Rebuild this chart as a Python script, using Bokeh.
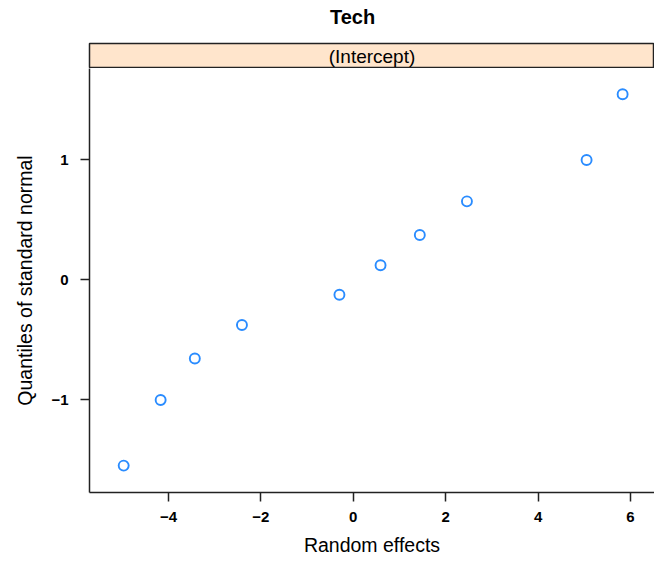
from bokeh.plotting import figure
from bokeh.layouts import column
from bokeh.models import Range1d, FixedTicker
from bokeh.core.properties import value
from bokeh.embed import file_html
from bokeh.resources import INLINE

# Estimated random effects (x) against standard normal quantiles (y)
random_effects = [-4.97, -4.17, -3.43, -2.41, -0.30, 0.59, 1.44, 2.46, 5.05, 5.83]
normal_quantiles = [-1.547, -1.000, -0.655, -0.375, -0.123, 0.123, 0.375, 0.655, 1.000, 1.547]

x_ticks = [-4, -2, 0, 2, 4, 6]
x_tick_labels = ["\u22124", "\u22122", "0", "2", "4", "6"]
y_ticks = [-1, 0, 1]
y_tick_labels = ["\u22121", "0", "1"]

main_title = "Tech"
strip_label = "(Intercept)"
x_label = "Random effects"
y_label = "Quantiles of standard normal"

FONT = "Liberation Sans"
AXIS_COL = "#222222"
POINT_COL = "#2A8CFF"
STRIP_COL = "#FFE5CC"

x_range = Range1d(-5.71, 6.52)

# Title band: a bare canvas in page-pixel coordinates (frame aligned with the panel)
head = figure(width=654, height=42, x_range=Range1d(89, 654), y_range=Range1d(42, 0),
              output_backend="svg", toolbar_location=None,
              x_axis_location=None, y_axis_location=None,
              min_border_left=89, min_border_right=0, min_border_top=0,
              min_border_bottom=0, outline_line_color=None,
              background_fill_color="white", border_fill_color="white")
head.grid.visible = False
head.text(x=[352], y=[16], text=[main_title], text_font=value(FONT),
          text_font_size="20px", text_font_style="bold", text_color="black",
          text_align="center", text_baseline="middle")

# Strip panel (lattice-style header)
strip = figure(width=654, height=26, x_range=x_range, y_range=Range1d(0, 1),
               output_backend="svg", toolbar_location=None,
               x_axis_location=None, y_axis_location=None,
               min_border_left=89, min_border_right=0, min_border_top=1,
               min_border_bottom=0, background_fill_color=STRIP_COL,
               border_fill_color="white", outline_line_color=AXIS_COL,
               outline_line_width=1.5)
strip.grid.visible = False
strip.text(x=[(x_range.start + x_range.end) / 2], y=[0.5], text=[strip_label],
           text_font=value(FONT), text_font_size="19px", text_align="center",
           text_baseline="middle", text_color="black")

# Main panel
p = figure(width=654, height=493, x_range=x_range, y_range=Range1d(-1.771, 1.762),
           output_backend="svg", toolbar_location=None,
           min_border_left=89, min_border_right=0, min_border_top=0,
           min_border_bottom=69, outline_line_color=None,
           background_fill_color="white", border_fill_color="white")
p.grid.visible = False

p.scatter(random_effects, normal_quantiles, marker="circle", size=10,
          fill_color=None, line_color=POINT_COL, line_width=1.9)

p.xaxis.ticker = FixedTicker(ticks=x_ticks)
p.xaxis.major_label_overrides = dict(zip(x_ticks, x_tick_labels))
p.yaxis.ticker = FixedTicker(ticks=y_ticks)
p.yaxis.major_label_overrides = dict(zip(y_ticks, y_tick_labels))
p.xaxis.axis_label = x_label
p.yaxis.axis_label = y_label

for ax in (p.xaxis, p.yaxis):
    ax.axis_line_color = AXIS_COL
    ax.axis_line_width = 1.5
    ax.major_tick_line_color = AXIS_COL
    ax.major_tick_line_width = 1.5
    ax.major_tick_out = 9
    ax.major_tick_in = 0
    ax.minor_tick_line_color = None
    ax.major_label_text_font = FONT
    ax.major_label_text_font_size = "15px"
    ax.major_label_text_font_style = "bold"
    ax.major_label_text_color = "black"
    ax.axis_label_text_font = FONT
    ax.axis_label_text_font_size = "19.5px"
    ax.axis_label_text_font_style = "normal"
    ax.axis_label_text_color = "black"

p.xaxis.major_label_standoff = 10
p.xaxis.axis_label_standoff = 9
p.yaxis.major_label_standoff = 12
p.yaxis.axis_label_standoff = 12
p.yaxis.major_label_orientation = "horizontal"

layout = column(head, strip, p, spacing=0)

open("out.html", "w").write(file_html(layout, INLINE))
